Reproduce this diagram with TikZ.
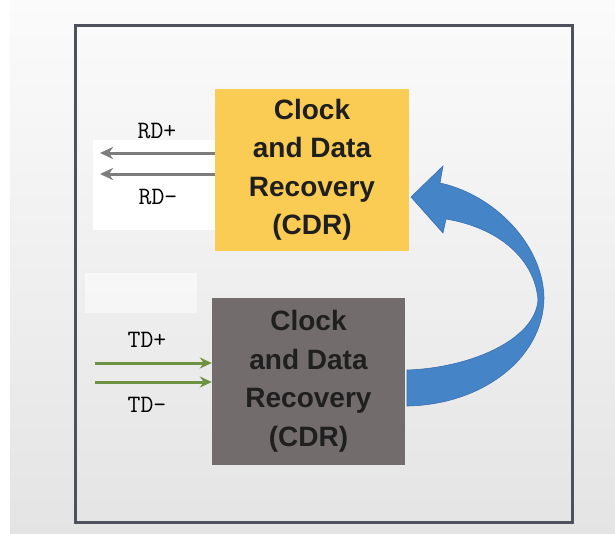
\documentclass[tikz,border=0pt]{standalone}
\usepackage{fontspec}
\setmainfont{Liberation Sans}
\usetikzlibrary{arrows.meta}
\definecolor{cdryellow}{RGB}{250,204,84}
\definecolor{cdrgray}{RGB}{114,108,108}
\definecolor{framec}{RGB}{78,82,94}
\definecolor{rdgray}{RGB}{125,125,125}
\definecolor{tdgreen}{RGB}{108,146,66}
\definecolor{bluefill}{RGB}{70,132,200}
\definecolor{blueedge}{RGB}{58,112,175}
\definecolor{bgtop}{RGB}{251,251,252}
\definecolor{bgbot}{RGB}{228,228,228}
\tikzset{
  cdrbox/.style={minimum width=194pt, minimum height=162pt, inner sep=0pt,
    align=center, font=\bfseries\fontsize{28}{38.5}\selectfont, text=black!88},
  sig/.style={font=\ttfamily\fontsize{25}{25}\selectfont, text=black, inner sep=0pt},
  rdarrow/.style={draw=rdgray, line width=3pt, -{Stealth[length=13pt,width=12pt,inset=4pt]}},
  tdarrow/.style={draw=tdgreen, line width=3pt, -{Stealth[length=12pt,width=11pt,inset=4pt]}},
}
\begin{document}
\begin{tikzpicture}[x=1pt,y=1pt]
\useasboundingbox (0,0) rectangle (615,-533);
% background
\fill[white] (0,0) rectangle (615,-533);
\shade[top color=bgtop, bottom color=bgbot] (10,0) rectangle (615,-533);
% faint white patches
\fill[white] (93,-140) rectangle (215,-230);
\fill[white, opacity=0.5] (85,-273) rectangle (197,-313);
% frame
\draw[framec, line width=3pt] (75,-25) rectangle (572,-522);
% boxes
\node[cdrbox, fill=cdryellow] (cdrA) at (312,-170) {Clock\\and Data\\Recovery\\(CDR)};
\node[cdrbox, fill=cdrgray, minimum width=193pt, minimum height=167pt] (cdrB) at (308.5,-381.5) {\raisebox{4pt}{\parbox{190pt}{\centering Clock\\and Data\\Recovery\\(CDR)}}};
% RD signals
\coordinate (rdp) at (100,-153);
\coordinate (rdm) at (100,-174);
\draw[rdarrow] (cdrA.west |- rdp) -- (rdp);
\draw[rdarrow] (cdrA.west |- rdm) -- (rdm);
\node[sig] (rdplus) at (157,-131) {RD+};
\node[sig] (rdminus) at (158,-197) {RD-};
% TD signals
\coordinate (tdp) at (95,-363);
\coordinate (tdm) at (95,-382);
\draw[tdarrow] (tdp) -- (cdrB.west |- tdp);
\draw[tdarrow] (tdm) -- (cdrB.west |- tdm);
\node[sig] (tdplus) at (147,-340) {TD+};
\node[sig] (tdminus) at (147,-405) {TD-};
% curved blue arrow
\fill[bluefill, draw=blueedge, line width=0.6pt]
  (411,-197) -- (443,-166) -- (440,-183)
  .. controls (495,-195) and (543,-245) .. (544,-298)
  .. controls (543,-360) and (480,-405) .. (407,-406)
  -- (407,-370)
  .. controls (470,-368) and (535,-340) .. (538,-300)
  .. controls (535,-260) and (500,-228) .. (446,-219)
  -- (443,-233) -- cycle;
\end{tikzpicture}
\end{document}
